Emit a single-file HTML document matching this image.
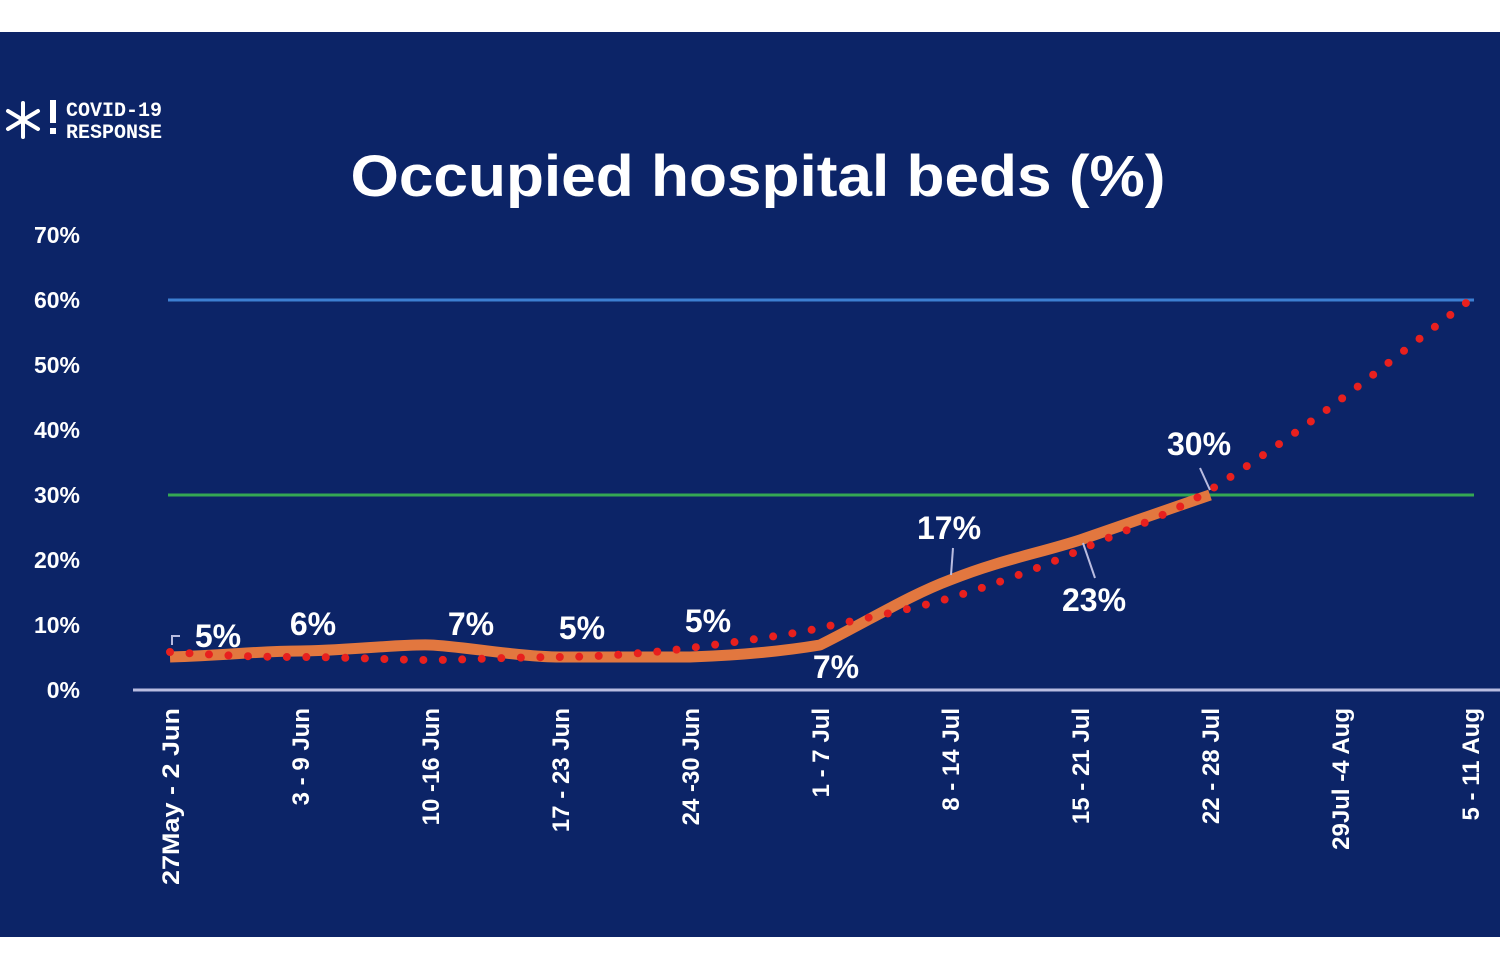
<!DOCTYPE html>
<html><head><style>
body{margin:0;width:1500px;height:968px;background:#fff;overflow:hidden}
svg{display:block}
text{font-family:"Liberation Sans",sans-serif;font-weight:bold;fill:#fff}
</style></head><body>
<svg width="1500" height="968" viewBox="0 0 1500 968">
<rect x="0" y="32" width="1500" height="905" fill="#0c2467"/>
<g fill="#fff" stroke="#fff">
<g stroke-width="4" stroke-linecap="round">
<line x1="23" y1="103" x2="23" y2="137"/><line x1="8" y1="111" x2="38" y2="129"/><line x1="8" y1="129" x2="38" y2="111"/>
</g>
<rect x="50" y="100" width="6" height="23" stroke="none"/><rect x="50" y="128" width="6" height="6" stroke="none"/>
</g>
<text x="66" y="116" font-size="20" style="font-family:'Liberation Mono',monospace" fill="#dde">COVID-19</text>
<text x="66" y="138" font-size="20" style="font-family:'Liberation Mono',monospace" fill="#dde">RESPONSE</text>
<text x="758" y="196" font-size="58" text-anchor="middle" textLength="815" lengthAdjust="spacingAndGlyphs">Occupied hospital beds (%)</text>
<g font-size="23" text-anchor="end">
<text x="80" y="243">70%</text><text x="80" y="308">60%</text><text x="80" y="373">50%</text><text x="80" y="438">40%</text><text x="80" y="503">30%</text><text x="80" y="568">20%</text><text x="80" y="633">10%</text><text x="80" y="698">0%</text>
</g>
<line x1="168" y1="300" x2="1474" y2="300" stroke="#3d7fd2" stroke-width="3"/>
<line x1="168" y1="495" x2="1474" y2="495" stroke="#35a853" stroke-width="3"/>
<line x1="133" y1="690" x2="1500" y2="690" stroke="#b9bce0" stroke-width="3"/>
<path d="M170 657 C230 655 260 651 300 651 S400 644 430 645 S520 657 560 657 L690 657 C750 655 790 650 820 645 C870 620 910 595 950 580 C1000 560 1040 553 1080 540 L1210 495" fill="none" stroke="#e2773f" stroke-width="11" stroke-linejoin="round"/>
<path d="M170 652 C230 656 260 657 300 657 S400 660 430 660 S520 657 560 657 S660 652 690 648 S790 635 820 628 S910 610 950 598 S1040 568 1080 550 S1170 515 1210 490 S1300 430 1340 400 S1430 330 1470 300" fill="none" stroke="#e8201e" stroke-width="8" stroke-linecap="round" stroke-dasharray="0 19.5"/>
<g stroke="#b9bce0" stroke-width="2" fill="none">
<path d="M172 645 L172 636 L180 636"/><line x1="953" y1="548" x2="951" y2="575"/><line x1="1083" y1="543" x2="1095" y2="578"/><line x1="1200" y1="468" x2="1210" y2="490"/>
</g>
<g font-size="32" text-anchor="middle">
<text x="218" y="647">5%</text><text x="313" y="635">6%</text><text x="471" y="635">7%</text><text x="582" y="639">5%</text><text x="708" y="632">5%</text><text x="836" y="678">7%</text><text x="949" y="539">17%</text><text x="1094" y="611">23%</text><text x="1199" y="455">30%</text>
</g>
<g font-size="24" text-anchor="end">
<text transform="translate(179,708) rotate(-90)" textLength="177" lengthAdjust="spacingAndGlyphs">27May - 2 Jun</text>
<text transform="translate(309,708) rotate(-90)">3 - 9 Jun</text>
<text transform="translate(439,708) rotate(-90)">10 -16 Jun</text>
<text transform="translate(569,708) rotate(-90)">17 - 23 Jun</text>
<text transform="translate(699,708) rotate(-90)">24 -30 Jun</text>
<text transform="translate(829,708) rotate(-90)">1 - 7 Jul</text>
<text transform="translate(959,708) rotate(-90)">8 - 14 Jul</text>
<text transform="translate(1089,708) rotate(-90)">15 - 21 Jul</text>
<text transform="translate(1219,708) rotate(-90)">22 - 28 Jul</text>
<text transform="translate(1349,708) rotate(-90)">29Jul -4 Aug</text>
<text transform="translate(1479,708) rotate(-90)">5 - 11 Aug</text>
</g>
</svg>
</body></html>
